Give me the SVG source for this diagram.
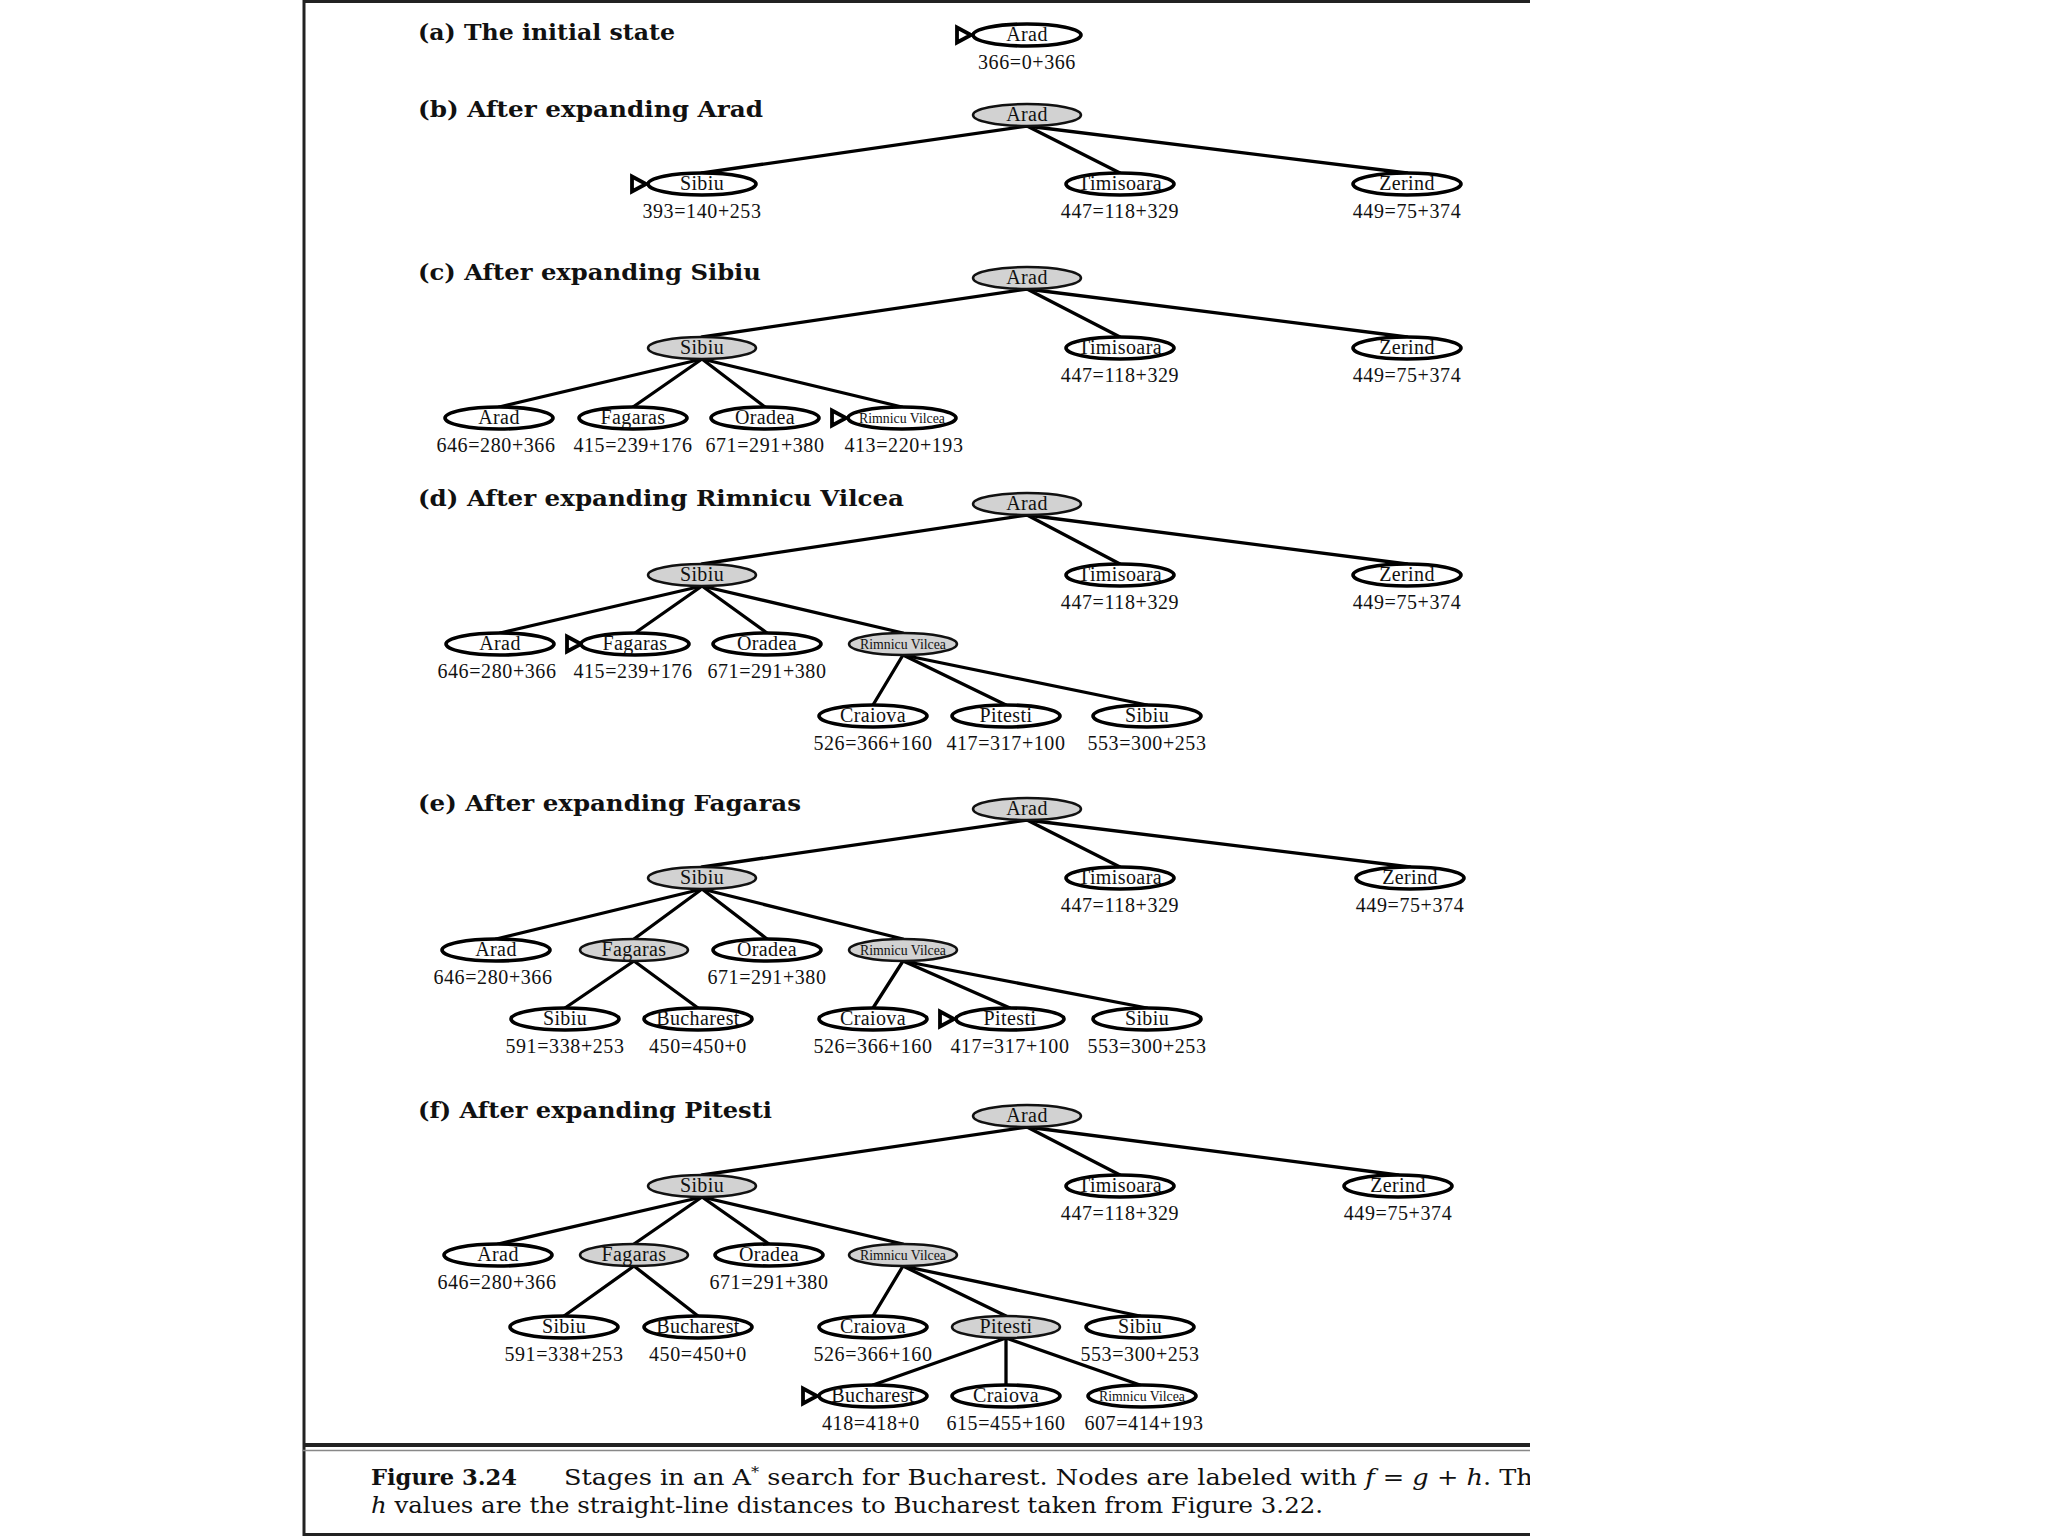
<svg xmlns="http://www.w3.org/2000/svg" xmlns:xlink="http://www.w3.org/1999/xlink" width="2048" height="1536" viewBox="0 0 2048 1536">
<style>
.n{fill:#fff;stroke:#000;stroke-width:3.6}
.x{fill:#d2d2d2;stroke:#111;stroke-width:2.5}
.t{font-family:"Liberation Serif",serif;font-size:20px;text-anchor:middle;fill:#111;letter-spacing:0.4px}
.rv{font-family:"Liberation Serif",serif;font-size:15px;text-anchor:middle;fill:#111}
.v{font-family:"Liberation Serif",serif;font-size:20px;text-anchor:middle;fill:#111;letter-spacing:0.6px}
.h{font-family:"DejaVu Serif",serif;font-weight:bold;font-size:23px;fill:#111}
.e line{stroke:#000;stroke-width:3.3;stroke-linecap:round}
.m{fill:#fff;stroke:#000;stroke-width:3.8;stroke-linejoin:miter}
.frame{stroke:#222;fill:none}
.cap{font-family:"DejaVu Serif",serif;font-size:22px;fill:#111}
</style>
<defs>
<path id="start" class="m" d="M-14,-7.5 L-14,7.5 L0,0 Z"/>
<clipPath id="clipR"><rect x="0" y="0" width="1530" height="1536"/></clipPath>
</defs>
<rect width="2048" height="1536" fill="#fff"/>
<g id="frame">
<line class="frame" x1="304" y1="0" x2="304" y2="1536" stroke-width="3"/>
<line class="frame" x1="303" y1="1.5" x2="1530" y2="1.5" stroke-width="3"/>
<line class="frame" x1="303" y1="1445" x2="1530" y2="1445" stroke-width="4"/>
<line x1="303" y1="1450.5" x2="1530" y2="1450.5" stroke="#888" stroke-width="1.5"/>
<line class="frame" x1="303" y1="1534.5" x2="1530" y2="1534.5" stroke-width="3"/>
</g>
<g id="headings">
<text class="h" x="418" y="40" textLength="257" lengthAdjust="spacingAndGlyphs">(a) The initial state</text>
<text class="h" x="418" y="117" textLength="345" lengthAdjust="spacingAndGlyphs">(b) After expanding Arad</text>
<text class="h" x="418" y="280" textLength="343" lengthAdjust="spacingAndGlyphs">(c) After expanding Sibiu</text>
<text class="h" x="418" y="506" textLength="486" lengthAdjust="spacingAndGlyphs">(d) After expanding Rimnicu Vilcea</text>
<text class="h" x="418" y="811" textLength="383" lengthAdjust="spacingAndGlyphs">(e) After expanding Fagaras</text>
<text class="h" x="418" y="1118" textLength="354" lengthAdjust="spacingAndGlyphs">(f) After expanding Pitesti</text>
</g>
<g id="connectors" class="e">
<line x1="1027" y1="126" x2="702" y2="173"/>
<line x1="1027" y1="126" x2="1120" y2="173"/>
<line x1="1027" y1="126" x2="1407" y2="173"/>
<line x1="1027" y1="289" x2="702" y2="337"/>
<line x1="1027" y1="289" x2="1120" y2="337"/>
<line x1="1027" y1="289" x2="1407" y2="337"/>
<line x1="702" y1="359" x2="499" y2="407"/>
<line x1="702" y1="359" x2="633" y2="407"/>
<line x1="702" y1="359" x2="765" y2="407"/>
<line x1="702" y1="359" x2="902" y2="407"/>
<line x1="1027" y1="515" x2="702" y2="564"/>
<line x1="1027" y1="515" x2="1120" y2="564"/>
<line x1="1027" y1="515" x2="1407" y2="564"/>
<line x1="702" y1="586" x2="500" y2="633"/>
<line x1="702" y1="586" x2="635" y2="633"/>
<line x1="702" y1="586" x2="767" y2="633"/>
<line x1="702" y1="586" x2="903" y2="633"/>
<line x1="903" y1="655" x2="873" y2="705"/>
<line x1="903" y1="655" x2="1006" y2="705"/>
<line x1="903" y1="655" x2="1147" y2="705"/>
<line x1="1027" y1="820" x2="702" y2="867"/>
<line x1="1027" y1="820" x2="1120" y2="867"/>
<line x1="1027" y1="820" x2="1410" y2="867"/>
<line x1="702" y1="889" x2="496" y2="939"/>
<line x1="702" y1="889" x2="634" y2="939"/>
<line x1="702" y1="889" x2="767" y2="939"/>
<line x1="702" y1="889" x2="903" y2="939"/>
<line x1="634" y1="961" x2="565" y2="1008"/>
<line x1="634" y1="961" x2="698" y2="1008"/>
<line x1="903" y1="961" x2="873" y2="1008"/>
<line x1="903" y1="961" x2="1010" y2="1008"/>
<line x1="903" y1="961" x2="1147" y2="1008"/>
<line x1="1027" y1="1127" x2="702" y2="1175"/>
<line x1="1027" y1="1127" x2="1120" y2="1175"/>
<line x1="1027" y1="1127" x2="1398" y2="1175"/>
<line x1="702" y1="1197" x2="498" y2="1244"/>
<line x1="702" y1="1197" x2="634" y2="1244"/>
<line x1="702" y1="1197" x2="769" y2="1244"/>
<line x1="702" y1="1197" x2="903" y2="1244"/>
<line x1="634" y1="1266" x2="564" y2="1316"/>
<line x1="634" y1="1266" x2="698" y2="1316"/>
<line x1="903" y1="1266" x2="873" y2="1316"/>
<line x1="903" y1="1266" x2="1006" y2="1316"/>
<line x1="903" y1="1266" x2="1140" y2="1316"/>
<line x1="1006" y1="1338" x2="873" y2="1385"/>
<line x1="1006" y1="1338" x2="1006" y2="1385"/>
<line x1="1006" y1="1338" x2="1140" y2="1385"/>
</g>
<g id="a-arad"><use xlink:href="#start" x="971" y="35"/><ellipse class="n" cx="1027" cy="35" rx="54" ry="11"/><text class="t" x="1027" y="41">Arad</text><text class="v" x="1027" y="69">366=0+366</text></g>
<g id="b-arad"><ellipse class="x" cx="1027" cy="115" rx="54" ry="11"/><text class="t" x="1027" y="121">Arad</text></g>
<g id="b-sibiu"><use xlink:href="#start" x="646" y="184"/><ellipse class="n" cx="702" cy="184" rx="54" ry="11"/><text class="t" x="702" y="190">Sibiu</text><text class="v" x="702" y="218">393=140+253</text></g>
<g id="b-timisoara"><ellipse class="n" cx="1120" cy="184" rx="54" ry="11"/><text class="t" x="1120" y="190">Timisoara</text><text class="v" x="1120" y="218">447=118+329</text></g>
<g id="b-zerind"><ellipse class="n" cx="1407" cy="184" rx="54" ry="11"/><text class="t" x="1407" y="190">Zerind</text><text class="v" x="1407" y="218">449=75+374</text></g>
<g id="c-arad"><ellipse class="x" cx="1027" cy="278" rx="54" ry="11"/><text class="t" x="1027" y="284">Arad</text></g>
<g id="c-sibiu"><ellipse class="x" cx="702" cy="348" rx="54" ry="11"/><text class="t" x="702" y="354">Sibiu</text></g>
<g id="c-timisoara"><ellipse class="n" cx="1120" cy="348" rx="54" ry="11"/><text class="t" x="1120" y="354">Timisoara</text><text class="v" x="1120" y="382">447=118+329</text></g>
<g id="c-zerind"><ellipse class="n" cx="1407" cy="348" rx="54" ry="11"/><text class="t" x="1407" y="354">Zerind</text><text class="v" x="1407" y="382">449=75+374</text></g>
<g id="c-arad2"><ellipse class="n" cx="499" cy="418" rx="54" ry="11"/><text class="t" x="499" y="424">Arad</text><text class="v" x="496" y="452">646=280+366</text></g>
<g id="c-fagaras"><ellipse class="n" cx="633" cy="418" rx="54" ry="11"/><text class="t" x="633" y="424">Fagaras</text><text class="v" x="633" y="452">415=239+176</text></g>
<g id="c-oradea"><ellipse class="n" cx="765" cy="418" rx="54" ry="11"/><text class="t" x="765" y="424">Oradea</text><text class="v" x="765" y="452">671=291+380</text></g>
<g id="c-rimnicu"><use xlink:href="#start" x="846" y="418"/><ellipse class="n" cx="902" cy="418" rx="54" ry="11"/><text class="rv" x="902" y="423" textLength="86" lengthAdjust="spacingAndGlyphs">Rimnicu Vilcea</text><text class="v" x="904" y="452">413=220+193</text></g>
<g id="d-arad"><ellipse class="x" cx="1027" cy="504" rx="54" ry="11"/><text class="t" x="1027" y="510">Arad</text></g>
<g id="d-sibiu"><ellipse class="x" cx="702" cy="575" rx="54" ry="11"/><text class="t" x="702" y="581">Sibiu</text></g>
<g id="d-timisoara"><ellipse class="n" cx="1120" cy="575" rx="54" ry="11"/><text class="t" x="1120" y="581">Timisoara</text><text class="v" x="1120" y="609">447=118+329</text></g>
<g id="d-zerind"><ellipse class="n" cx="1407" cy="575" rx="54" ry="11"/><text class="t" x="1407" y="581">Zerind</text><text class="v" x="1407" y="609">449=75+374</text></g>
<g id="d-arad2"><ellipse class="n" cx="500" cy="644" rx="54" ry="11"/><text class="t" x="500" y="650">Arad</text><text class="v" x="497" y="678">646=280+366</text></g>
<g id="d-fagaras"><use xlink:href="#start" x="581" y="644"/><ellipse class="n" cx="635" cy="644" rx="54" ry="11"/><text class="t" x="635" y="650">Fagaras</text><text class="v" x="633" y="678">415=239+176</text></g>
<g id="d-oradea"><ellipse class="n" cx="767" cy="644" rx="54" ry="11"/><text class="t" x="767" y="650">Oradea</text><text class="v" x="767" y="678">671=291+380</text></g>
<g id="d-rimnicu"><ellipse class="x" cx="903" cy="644" rx="54" ry="11"/><text class="rv" x="903" y="649" textLength="86" lengthAdjust="spacingAndGlyphs">Rimnicu Vilcea</text></g>
<g id="d-craiova"><ellipse class="n" cx="873" cy="716" rx="54" ry="11"/><text class="t" x="873" y="722">Craiova</text><text class="v" x="873" y="750">526=366+160</text></g>
<g id="d-pitesti"><ellipse class="n" cx="1006" cy="716" rx="54" ry="11"/><text class="t" x="1006" y="722">Pitesti</text><text class="v" x="1006" y="750">417=317+100</text></g>
<g id="d-sibiu2"><ellipse class="n" cx="1147" cy="716" rx="54" ry="11"/><text class="t" x="1147" y="722">Sibiu</text><text class="v" x="1147" y="750">553=300+253</text></g>
<g id="e-arad"><ellipse class="x" cx="1027" cy="809" rx="54" ry="11"/><text class="t" x="1027" y="815">Arad</text></g>
<g id="e-sibiu"><ellipse class="x" cx="702" cy="878" rx="54" ry="11"/><text class="t" x="702" y="884">Sibiu</text></g>
<g id="e-timisoara"><ellipse class="n" cx="1120" cy="878" rx="54" ry="11"/><text class="t" x="1120" y="884">Timisoara</text><text class="v" x="1120" y="912">447=118+329</text></g>
<g id="e-zerind"><ellipse class="n" cx="1410" cy="878" rx="54" ry="11"/><text class="t" x="1410" y="884">Zerind</text><text class="v" x="1410" y="912">449=75+374</text></g>
<g id="e-arad2"><ellipse class="n" cx="496" cy="950" rx="54" ry="11"/><text class="t" x="496" y="956">Arad</text><text class="v" x="493" y="984">646=280+366</text></g>
<g id="e-fagaras"><ellipse class="x" cx="634" cy="950" rx="54" ry="11"/><text class="t" x="634" y="956">Fagaras</text></g>
<g id="e-oradea"><ellipse class="n" cx="767" cy="950" rx="54" ry="11"/><text class="t" x="767" y="956">Oradea</text><text class="v" x="767" y="984">671=291+380</text></g>
<g id="e-rimnicu"><ellipse class="x" cx="903" cy="950" rx="54" ry="11"/><text class="rv" x="903" y="955" textLength="86" lengthAdjust="spacingAndGlyphs">Rimnicu Vilcea</text></g>
<g id="e-sibiu3"><ellipse class="n" cx="565" cy="1019" rx="54" ry="11"/><text class="t" x="565" y="1025">Sibiu</text><text class="v" x="565" y="1053">591=338+253</text></g>
<g id="e-bucharest"><ellipse class="n" cx="698" cy="1019" rx="54" ry="11"/><text class="t" x="698" y="1025">Bucharest</text><text class="v" x="698" y="1053">450=450+0</text></g>
<g id="e-craiova"><ellipse class="n" cx="873" cy="1019" rx="54" ry="11"/><text class="t" x="873" y="1025">Craiova</text><text class="v" x="873" y="1053">526=366+160</text></g>
<g id="e-pitesti"><use xlink:href="#start" x="954" y="1019"/><ellipse class="n" cx="1010" cy="1019" rx="54" ry="11"/><text class="t" x="1010" y="1025">Pitesti</text><text class="v" x="1010" y="1053">417=317+100</text></g>
<g id="e-sibiu2"><ellipse class="n" cx="1147" cy="1019" rx="54" ry="11"/><text class="t" x="1147" y="1025">Sibiu</text><text class="v" x="1147" y="1053">553=300+253</text></g>
<g id="f-arad"><ellipse class="x" cx="1027" cy="1116" rx="54" ry="11"/><text class="t" x="1027" y="1122">Arad</text></g>
<g id="f-sibiu"><ellipse class="x" cx="702" cy="1186" rx="54" ry="11"/><text class="t" x="702" y="1192">Sibiu</text></g>
<g id="f-timisoara"><ellipse class="n" cx="1120" cy="1186" rx="54" ry="11"/><text class="t" x="1120" y="1192">Timisoara</text><text class="v" x="1120" y="1220">447=118+329</text></g>
<g id="f-zerind"><ellipse class="n" cx="1398" cy="1186" rx="54" ry="11"/><text class="t" x="1398" y="1192">Zerind</text><text class="v" x="1398" y="1220">449=75+374</text></g>
<g id="f-arad2"><ellipse class="n" cx="498" cy="1255" rx="54" ry="11"/><text class="t" x="498" y="1261">Arad</text><text class="v" x="497" y="1289">646=280+366</text></g>
<g id="f-fagaras"><ellipse class="x" cx="634" cy="1255" rx="54" ry="11"/><text class="t" x="634" y="1261">Fagaras</text></g>
<g id="f-oradea"><ellipse class="n" cx="769" cy="1255" rx="54" ry="11"/><text class="t" x="769" y="1261">Oradea</text><text class="v" x="769" y="1289">671=291+380</text></g>
<g id="f-rimnicu"><ellipse class="x" cx="903" cy="1255" rx="54" ry="11"/><text class="rv" x="903" y="1260" textLength="86" lengthAdjust="spacingAndGlyphs">Rimnicu Vilcea</text></g>
<g id="f-sibiu3"><ellipse class="n" cx="564" cy="1327" rx="54" ry="11"/><text class="t" x="564" y="1333">Sibiu</text><text class="v" x="564" y="1361">591=338+253</text></g>
<g id="f-bucharest"><ellipse class="n" cx="698" cy="1327" rx="54" ry="11"/><text class="t" x="698" y="1333">Bucharest</text><text class="v" x="698" y="1361">450=450+0</text></g>
<g id="f-craiova"><ellipse class="n" cx="873" cy="1327" rx="54" ry="11"/><text class="t" x="873" y="1333">Craiova</text><text class="v" x="873" y="1361">526=366+160</text></g>
<g id="f-pitesti"><ellipse class="x" cx="1006" cy="1327" rx="54" ry="11"/><text class="t" x="1006" y="1333">Pitesti</text></g>
<g id="f-sibiu2"><ellipse class="n" cx="1140" cy="1327" rx="54" ry="11"/><text class="t" x="1140" y="1333">Sibiu</text><text class="v" x="1140" y="1361">553=300+253</text></g>
<g id="f-bucharest2"><use xlink:href="#start" x="817" y="1396"/><ellipse class="n" cx="873" cy="1396" rx="54" ry="11"/><text class="t" x="873" y="1402">Bucharest</text><text class="v" x="871" y="1430">418=418+0</text></g>
<g id="f-craiova2"><ellipse class="n" cx="1006" cy="1396" rx="54" ry="11"/><text class="t" x="1006" y="1402">Craiova</text><text class="v" x="1006" y="1430">615=455+160</text></g>
<g id="f-rimnicu2"><ellipse class="n" cx="1142" cy="1396" rx="54" ry="11"/><text class="rv" x="1142" y="1401" textLength="86" lengthAdjust="spacingAndGlyphs">Rimnicu Vilcea</text><text class="v" x="1144" y="1430">607=414+193</text></g>
<g id="caption" clip-path="url(#clipR)">
<text class="cap" x="371" y="1485" font-weight="bold" textLength="146" lengthAdjust="spacingAndGlyphs">Figure 3.24</text>
<text class="cap" x="564" y="1485" textLength="984" lengthAdjust="spacingAndGlyphs">Stages in an A<tspan dy="-8" font-size="14">*</tspan><tspan dy="8"> search for Bucharest. Nodes are labeled with </tspan><tspan font-style="italic">f</tspan> = <tspan font-style="italic">g</tspan> + <tspan font-style="italic">h</tspan>. The</text>
<text class="cap" x="371" y="1513" textLength="952" lengthAdjust="spacingAndGlyphs"><tspan font-style="italic">h</tspan> values are the straight-line distances to Bucharest taken from Figure 3.22.</text>
</g>
</svg>
